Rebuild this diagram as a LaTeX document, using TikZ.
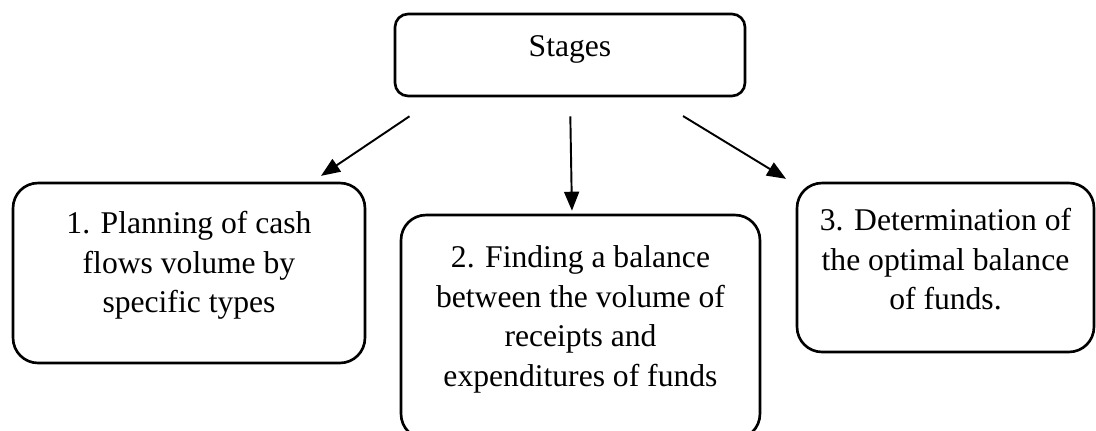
\documentclass[tikz,border=0pt]{standalone}
\usepackage{tikz}
\usepackage{fontspec}
\setmainfont{Liberation Serif}
\usetikzlibrary{calc,
	positioning,
	arrows.meta}
\tikzstyle{stg}=[draw, line width=1.5pt, align=center, inner sep=0,
		font=\fontsize{18}{22.4}\selectfont]
\tikzstyle{top}=[stg, rounded corners=0.26cm, minimum width=7cm, minimum height=1.64cm,
		text depth=0.34cm]
\tikzstyle{sub}=[stg, rounded corners=0.5cm, text depth=0.44cm]
\tikzstyle{arr}=[line width=1.1pt, -{Triangle[length=0.38cm, width=0.3cm]}]

\begin{document}
\begin{tikzpicture}[x=0.02cm, y=-0.02cm]
	\useasboundingbox (0,0) rectangle (1096,430);
	\node[top] (stages) at (570,55) {Stages};
	\node[sub, minimum width=7.04cm, minimum height=3.6cm] (plan) at (189,273)
		{1. Planning of cash\\flows volume by\\specific types};
	\node[sub, minimum width=7.18cm, minimum height=4.48cm] (balance) at (580.5,327)
		{2. Finding a balance\\between the volume of\\receipts and\\expenditures of funds};
	\node[sub, minimum width=5.94cm, minimum height=3.38cm, text depth=0.34cm] (optimal) at (945.5,267.5)
		{3. Determination of\\the optimal balance\\of funds.};
	\draw[arr, shorten <=0.68cm, shorten >=0.21cm] ([xshift=0.88cm]stages.south west) -- ([xshift=-1.08cm]plan.north east);
	\draw[arr, shorten <=0.38cm, shorten >=0.06cm] (stages.south) -- ([xshift=-0.17cm]balance.north);
	\draw[arr, shorten <=0.72cm, shorten >=0.11cm] ([xshift=-1.88cm]stages.south east) -- ([xshift=-0.1cm]optimal.north west);
\end{tikzpicture}
\end{document}
